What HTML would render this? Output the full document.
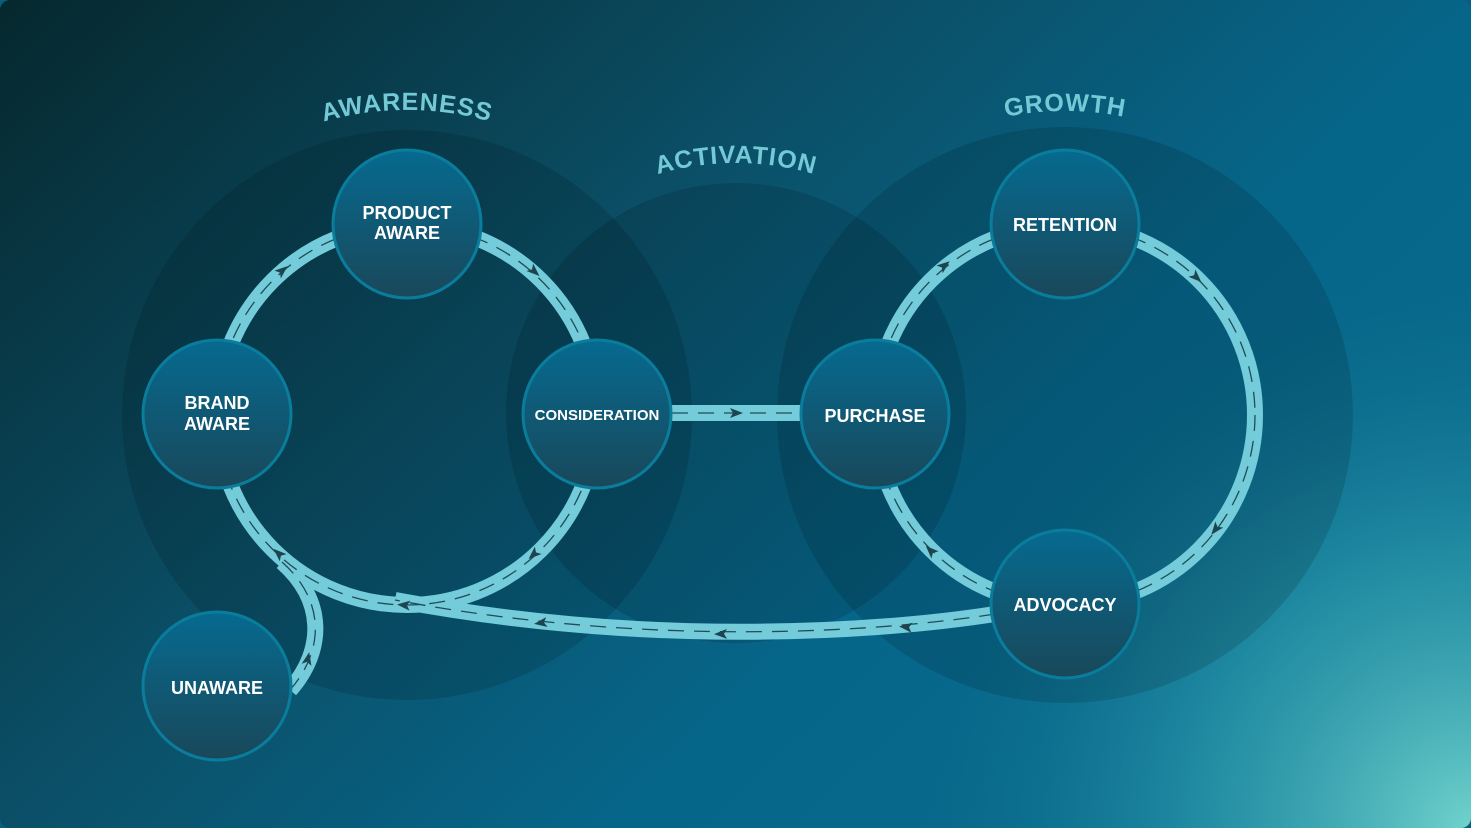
<!DOCTYPE html>
<html><head><meta charset="utf-8"><style>
html,body{margin:0;padding:0;background:#0a5d7c}
svg{display:block}
text{font-family:"Liberation Sans",sans-serif;font-weight:bold}
</style></head><body>
<svg width="1471" height="828" viewBox="0 0 1471 828" xmlns="http://www.w3.org/2000/svg">
<defs>
<linearGradient id="bg" x1="0" y1="0" x2="1" y2="0.6">
<stop offset="0" stop-color="#06282e"/>
<stop offset="0.45" stop-color="#0b5068"/>
<stop offset="0.75" stop-color="#06668a"/>
<stop offset="1" stop-color="#0a6a8c"/>
</linearGradient>
<radialGradient id="glow" cx="1471" cy="828" r="560" gradientUnits="userSpaceOnUse">
<stop offset="0" stop-color="#70d2cc" stop-opacity="1"/>
<stop offset="0.5" stop-color="#2fa0b0" stop-opacity="0.6"/>
<stop offset="1" stop-color="#0a6a8c" stop-opacity="0"/>
</radialGradient>
<linearGradient id="node" x1="0" y1="0" x2="0" y2="1">
<stop offset="0" stop-color="#066a90"/>
<stop offset="1" stop-color="#19485a"/>
</linearGradient>
<path id="ar" d="M-7,-5 L6,0 L-7,5 L-4,0 Z" fill="#1d4550"/>
<path id="pA" d="M 102 415 A 305 305 0 0 1 712 415"/>
<path id="pB" d="M 459 440 A 277 277 0 0 1 1013 440"/>
<path id="pC" d="M 761 415 A 304 304 0 0 1 1369 415"/>
</defs>
<rect width="1471" height="828" rx="10" fill="url(#bg)"/>
<rect width="1471" height="828" rx="10" fill="url(#glow)"/>

<circle cx="407" cy="415" r="285" fill="#000" fill-opacity="0.13"/>
<circle cx="736" cy="413" r="230" fill="#000" fill-opacity="0.13"/>
<circle cx="1065" cy="415" r="288" fill="#000" fill-opacity="0.13"/>

<text font-size="25" fill="#74c9d6" letter-spacing="1"><textPath href="#pA" startOffset="50%" text-anchor="middle">AWARENESS</textPath></text>
<text font-size="25" fill="#74c9d6" letter-spacing="1"><textPath href="#pB" startOffset="50%" text-anchor="middle">ACTIVATION</textPath></text>
<text font-size="25" fill="#74c9d6" letter-spacing="1"><textPath href="#pC" startOffset="50%" text-anchor="middle">GROWTH</textPath></text>

<g fill="none" stroke="#74cbd9" stroke-width="16">
<circle cx="407" cy="415" r="190"/>
<circle cx="1065" cy="415" r="190"/>
<path d="M 995 614 C 880 632, 650 648, 395 600"/>
<path d="M 282 562 C 325 600, 325 650, 290 690"/>
<path d="M 672 413 L 805 413"/>
</g>
<g fill="none" stroke="#1f4d58" stroke-width="1.3" stroke-dasharray="16 10">
<circle cx="407" cy="415" r="190"/>
<circle cx="1065" cy="415" r="190"/>
<path d="M 995 614 C 880 632, 650 648, 395 600"/>
<path d="M 282 562 C 325 600, 325 650, 290 690"/>
<path d="M 672 413 L 805 413"/>
</g>
<use href="#ar" transform="translate(283,270) rotate(-40)"/>
<use href="#ar" transform="translate(535,272) rotate(42)"/>
<use href="#ar" transform="translate(533,555) rotate(138)"/>
<use href="#ar" transform="translate(278,553) rotate(223)"/>
<use href="#ar" transform="translate(403,605) rotate(185)"/>
<use href="#ar" transform="translate(540,623) rotate(172)"/>
<use href="#ar" transform="translate(720,634) rotate(179)"/>
<use href="#ar" transform="translate(905,627) rotate(186)"/>
<use href="#ar" transform="translate(308,658) rotate(-78)"/>
<use href="#ar" transform="translate(945,265) rotate(-39)"/>
<use href="#ar" transform="translate(1197,278) rotate(44)"/>
<use href="#ar" transform="translate(1215,530) rotate(128)"/>
<use href="#ar" transform="translate(930,550) rotate(225)"/>
<use href="#ar" transform="translate(737,413) rotate(0)"/>

<g fill="url(#node)" stroke="#0b7d9c" stroke-width="3">
<circle cx="407" cy="224" r="74"/>
<circle cx="217" cy="414" r="74"/>
<circle cx="597" cy="414" r="74"/>
<circle cx="217" cy="686" r="74"/>
<circle cx="875" cy="414" r="74"/>
<circle cx="1065" cy="224" r="74"/>
<circle cx="1065" cy="604" r="74"/>
</g>
<g fill="#fff" font-size="18" text-anchor="middle">
<text x="407" y="219">PRODUCT</text>
<text x="407" y="239">AWARE</text>
<text x="217" y="409">BRAND</text>
<text x="217" y="430">AWARE</text>
<text x="597" y="420" font-size="15">CONSIDERATION</text>
<text x="217" y="694">UNAWARE</text>
<text x="875" y="422">PURCHASE</text>
<text x="1065" y="231">RETENTION</text>
<text x="1065" y="611">ADVOCACY</text>
</g>
</svg>
</body></html>
